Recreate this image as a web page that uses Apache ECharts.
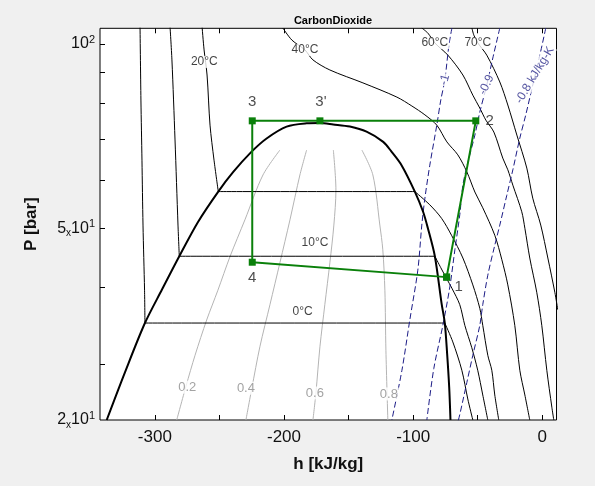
<!DOCTYPE html>
<html>
<head>
<meta charset="utf-8">
<script src="https://cdn.jsdelivr.net/npm/echarts@6/dist/echarts.min.js"></script>
<style>
html, body { margin: 0; padding: 0; background: #f0f0f0; }
#chart { width: 595px; height: 486px; }
</style>
</head>
<body>
<div id="chart"></div>
<script>
// axis ranges, h in kJ/kg and P in bar
const H_MIN = -342.5, H_MAX = 11;
const P_MIN = 24.3, P_MAX = 106.1;
const hTicks = [-300, -250, -200, -150, -100, -50, 0];
const hLabels = [-300, -200, -100, 0];
const pTicks = [30, 40, 50, 60, 70, 80, 90, 100];
const pLabels = [[P_MIN, '2', '1'], [50, '5', '1'], [100, '', '2']];

// saturation dome [h, P]
const dome = [[-337.3,24.3],[-323.1,29.1],[-307.7,35.0],[-294.5,39.7],[-281.1,45.0],[-266.6,51.2],[-250.9,57.4],
  [-239.3,61.8],[-225.1,66.7],[-213.5,70.1],[-198.0,73.3],[-182.5,74.2],[-172.2,74.3],[-161.9,73.9],[-149.0,73.3],
  [-136.1,71.9],[-123.2,69.2],[-116.5,66.6],[-109.0,63.4],[-98.7,57.4],[-92.3,53.2],[-88.6,50.0],[-83.2,45.0],
  [-78.0,37.7],[-75.5,35.0],[-73.7,31.2],[-72.1,27.5],[-71.1,24.3]];

// isotherms: liquid part, two-phase part, vapour part
const t0Liq = [[-311.5,107],[-310.8,81.0],[-310.0,64.6],[-309.2,50.6],[-308.0,39.6],[-307.7,35.0]];
const t0Sat = [[-307.7,35.0],[-75.5,35.0]];
const t0Vap = [[-75.5,35.0],[-69.3,32.6],[-62.3,29.3],[-57.7,26.3],[-53.8,24.3]];
const t10Liq = [[-288.3,107],[-286.8,94.2],[-284.4,69.7],[-282.1,50.6],[-281.1,45.0]];
const t10Sat = [[-281.1,45.0],[-83.2,45.0]];
const t10Vap = [[-83.2,45.0],[-78.6,43.1],[-73.9,41.3],[-70.0,39.9],[-63.9,37.5],[-60.0,34.7],[-54.6,31.9],
  [-50.0,29.3],[-46.1,26.7],[-42.2,24.3]];
const t20Liq = [[-263.5,107],[-261.9,97.8],[-259.6,89.0],[-257.3,73.7],[-254.2,64.6],[-250.9,57.4]];
const t20Sat = [[-250.9,57.4],[-98.7,57.4]];
const t20Vap = [[-98.7,57.4],[-87.1,54.6],[-78.0,51.9],[-70.3,48.7],[-61.5,44.7],[-53.8,40.4],[-48.4,37.0],
  [-46.1,34.7],[-42.2,31.0],[-39.1,29.3],[-36.8,26.7],[-33.7,24.3]];
const t40 = [[-200.9,106.2],[-193.9,101.5],[-183.8,97.8],[-177.6,94.2],[-164.5,90.7],[-138.9,86.4],[-112.6,81.9],
  [-101.0,79.2],[-90.9,76.6],[-81.7,73.7],[-73.9,69.2],[-65.4,65.9],[-58.4,61.8],[-52.2,57.3],[-46.1,54.0],
  [-36.8,48.7],[-31.3,44.4],[-26.7,40.4],[-21.3,34.7],[-17.4,29.3],[-13.5,26.7],[-9.7,24.3]];
const t60 = [[-93.3,106.2],[-88.6,104.2],[-83.2,100.4],[-73.1,95.9],[-61.5,89.0],[-53.8,82.5],[-48.4,78.6],
  [-43.7,75.1],[-37.5,71.8],[-30.6,65.1],[-26.7,62.3],[-22.8,58.8],[-15.9,53.2],[-13.5,50.0],[-9.7,44.7],
  [-4.3,39.3],[-0.4,34.7],[3.5,29.3],[7.4,25.5],[8.9,24.3]];
const t70 = [[-54.5,106.2],[-53.0,103.4],[-49.9,100.4],[-43.0,95.9],[-32.9,86.7],[-26.7,79.5],[-19.7,71.0],
  [-12.0,62.7],[-7.4,56.0],[-1.2,50.6],[4.3,44.7],[9.7,39.3],[12.0,36.8]];

// quality lines
const x02 = [[-283.1,24.3],[-275.9,27.6],[-268.9,31.0],[-259.9,35.4],[-251.2,39.6],[-241.9,44.9],[-230.3,51.6],[-216.3,61.1],[-203.2,67.1]];
const x04 = [[-229.5,24.3],[-224.9,27.4],[-218.7,32.0],[-210.9,37.5],[-203.2,43.9],[-195.4,51.6],[-187.7,61.1],[-182.5,67.1]];
const x06 = [[-177.6,24.3],[-175.3,26.9],[-172.2,32.0],[-168.4,37.5],[-164.5,43.9],[-161.4,50.6],[-159.8,57.7],[-161.8,67.1]];
const x08 = [[-119.6,24.3],[-121.1,31.6],[-121.9,39.6],[-123.5,46.1],[-125.8,50.6],[-131.2,61.1],[-139.7,67.1]];

// isentropes, kJ/kg-K
const sM10 = [[-70.0,106.2],[-72.3,99.6],[-75.5,87.3],[-78.6,81.0],[-81.7,73.7],[-87.1,63.4],[-90.9,56.0],
  [-93.3,50.6],[-96.4,42.7],[-102.6,35.4],[-108.7,29.3],[-116.5,24.3]];
const sM09 = [[-32.9,106.2],[-38.3,94.9],[-43.0,85.7],[-48.4,77.4],[-52.2,71.0],[-57.6,64.1],[-61.5,58.8],
  [-63.9,52.6],[-67.7,46.1],[-71.6,40.1],[-77.0,34.7],[-84.0,29.5],[-89.4,24.3]];
const sM08 = [[2.7,106.2],[-1.9,95.9],[-7.4,85.7],[-12.8,76.6],[-17.4,70.2],[-22.8,62.3],[-27.5,56.6],
  [-32.9,50.6],[-36.8,46.9],[-42.2,41.9],[-46.1,37.5],[-48.4,34.7],[-53.8,31.0],[-58.4,28.0],[-63.9,24.8],[-65.4,24.1]];

// cycle 1 -> 2 -> 3' -> 3 -> 4 -> 1
const cycle = [[-74.1,41.6],[-51.5,74.9],[-172.2,74.9],[-224.6,74.9],[-224.6,44.0],[-74.1,41.6]];
const cycleNames = ['1', '2', "3'", '3', '4'];

const isoLabels = [['20°C',-261.7,93.5],['40°C',-183.8,97.8],['60°C',-83.2,100.4],['70°C',-49.9,100.4],
  ['10°C',-176.0,47.3],['0°C',-185.6,36.5]];
const qualLabels = [['0.2',-274.9,27.5],['0.4',-229.5,27.4],['0.6',-176.1,26.9],['0.8',-118.8,26.8]];
const entLabels = [['-1',-75.5,87.4],['-0.9',-43.2,85.8],['-0.8 kJ/kg-K',-5.8,89.0]];

const FONT = '"Liberation Sans", Arial, sans-serif';
const lg = p => [p[0], Math.log10(p[1])];

function curve(pts, color, width, type, z) {
  return {
    type: 'line', data: pts.map(lg), symbol: 'none', smooth: 0.3, silent: true, z: z,
    lineStyle: { color: color, width: width, type: type || 'solid' }
  };
}

function texts(items, style, rotations, offsets) {
  return {
    type: 'scatter', symbolSize: 2, itemStyle: { color: 'rgba(0,0,0,0)' }, silent: true, z: 20,
    data: items.map((it, i) => ({
      value: lg([it[1], it[2]]),
      label: { formatter: it[0], rotate: rotations ? rotations[i] : 0, offset: offsets ? offsets[i] : [0, 0] }
    })),
    label: Object.assign({ show: true, position: 'inside', fontFamily: FONT }, style)
  };
}

const series = [
  curve(x02, '#b4b4b4', 1), curve(x04, '#b4b4b4', 1), curve(x06, '#b4b4b4', 1), curve(x08, '#b4b4b4', 1),
  curve(t0Liq, '#000', 1), curve(t0Sat, '#000', 1), curve(t0Vap, '#000', 1),
  curve(t10Liq, '#000', 1), curve(t10Sat, '#000', 1), curve(t10Vap, '#000', 1),
  curve(t20Liq, '#000', 1), curve(t20Sat, '#000', 1), curve(t20Vap, '#000', 1),
  curve(t40, '#000', 1), curve(t60, '#000', 1), curve(t70, '#000', 1),
  curve(sM10, '#1c1c86', 1, [6, 3]), curve(sM09, '#1c1c86', 1, [6, 3]), curve(sM08, '#1c1c86', 1, [6, 3]),
  curve(dome, '#000', 2, 'solid', 5),
  texts(isoLabels, { fontSize: 12, color: '#111', backgroundColor: '#fff', padding: [0, 1] }),
  texts(qualLabels, { fontSize: 13, color: '#8c8c8c', backgroundColor: '#fff', padding: [0, 1] }),
  texts(entLabels, { fontSize: 12, color: '#2a2a8a', backgroundColor: '#fff', padding: [0, 1] }, [74, 64, 59]),
  {
    type: 'line', data: cycle.map(lg), symbol: 'rect', symbolSize: 7, silent: true, z: 15,
    lineStyle: { color: '#0a800a', width: 2 }, itemStyle: { color: '#0a800a' }
  },
  texts(cycleNames.map((n, i) => [n, cycle[i][0], cycle[i][1]]),
    { fontSize: 15, color: '#222' }, null, [[12, 10], [14, 0], [1, -19], [0, -19], [0, 16]])
];

function pFormat(v) {
  let best = pLabels[0];
  pLabels.forEach(l => { if (Math.abs(Math.log10(l[0]) - v) < Math.abs(Math.log10(best[0]) - v)) best = l; });
  return best[1] ? '{n|' + best[1] + '}{x|x}{n|10}{s|' + best[2] + '}' : '{n|10}{s|' + best[2] + '}';
}

const chart = echarts.init(document.getElementById('chart'), null, { renderer: 'canvas' });
chart.setOption({
  animation: false,
  backgroundColor: '#f0f0f0',
  textStyle: { fontFamily: FONT },
  title: {
    text: 'CarbonDioxide', left: 328, top: 10, textAlign: 'center',
    textStyle: { fontSize: 11, fontWeight: 'bold', color: '#000', fontFamily: FONT }
  },
  grid: {
    left: 100, right: 38.5, top: 28.3, bottom: 66, show: true, outerBoundsMode: 'none',
    backgroundColor: '#fff', borderColor: '#000', borderWidth: 1
  },
  xAxis: [{
    type: 'value', min: H_MIN, max: H_MAX,
    axisLine: { show: false, onZero: false }, splitLine: { show: false },
    axisTick: { show: true, inside: true, length: 5, customValues: hTicks, lineStyle: { color: '#000' } },
    axisLabel: { customValues: hLabels, fontSize: 17, color: '#111', margin: 9, fontFamily: FONT },
    name: 'h [kJ/kg]', nameLocation: 'middle', nameGap: 36,
    nameTextStyle: { fontSize: 17, fontWeight: 'bold', color: '#111', fontFamily: FONT }
  }, {
    type: 'value', position: 'top', min: H_MIN, max: H_MAX,
    axisLine: { show: false, onZero: false }, splitLine: { show: false }, axisLabel: { show: false },
    axisTick: { show: true, inside: true, length: 5, customValues: hTicks, lineStyle: { color: '#000' } }
  }],
  yAxis: {
    type: 'value', position: 'left', min: Math.log10(P_MIN), max: Math.log10(P_MAX),
    axisLine: { show: false, onZero: false }, splitLine: { show: false },
    axisTick: { show: true, inside: true, length: 5, customValues: pTicks.map(Math.log10), lineStyle: { color: '#000' } },
    axisLabel: {
      customValues: pLabels.map(l => Math.log10(l[0])), margin: 5, formatter: pFormat,
      rich: {
        n: { fontSize: 16, color: '#111', lineHeight: 20, fontFamily: FONT },
        x: { fontSize: 10, color: '#111', lineHeight: 17, verticalAlign: 'bottom', fontFamily: FONT },
        s: { fontSize: 11, color: '#111', lineHeight: 11, verticalAlign: 'top', fontFamily: FONT }
      }
    },
    name: 'P [bar]', nameLocation: 'middle', nameGap: 60,
    nameTextStyle: { fontSize: 17, fontWeight: 'bold', color: '#111', fontFamily: FONT }
  },
  series: series
});
</script>
</body>
</html>
